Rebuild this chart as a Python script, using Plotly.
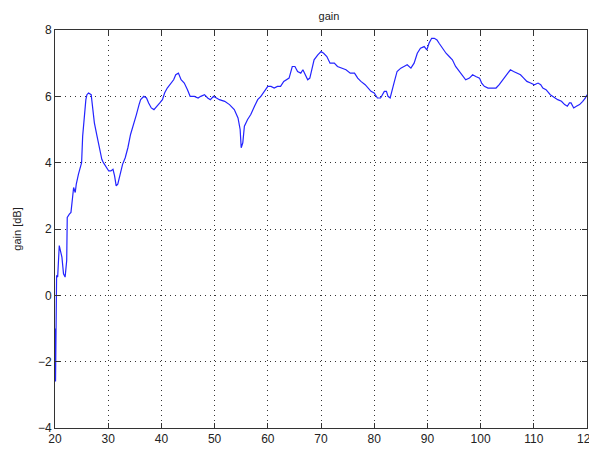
import plotly.graph_objects as go

freq = [20.0, 20.1, 20.3, 20.5, 20.8, 21.3, 21.6, 21.9, 22.2, 22.3, 22.7, 23.0, 23.3, 23.5, 23.8, 24.0,
        24.4, 24.7, 25.0, 25.2, 25.5, 25.8, 26.0, 26.3, 26.8, 27.1, 27.4, 27.9, 28.4, 28.8, 29.1,
        29.5, 29.8, 30.1, 30.5, 30.9, 31.2, 31.5, 31.8, 32.3, 32.7, 33.2, 33.7, 34.2, 34.8, 35.3,
        35.8, 36.1, 36.7, 37.2, 37.6, 38.1, 38.6, 39.2, 39.7, 40.2, 40.6, 41.1, 41.8, 42.3, 42.7,
        43.2, 43.7, 44.3, 44.9, 45.4, 46.2, 46.9, 47.4, 48.1, 48.7, 49.2, 49.8, 50.9, 51.9, 52.8,
        53.7, 54.4, 54.8, 55.0, 55.3, 55.6, 56.2, 56.8, 57.5, 58.1, 58.7, 59.3, 60.0, 60.6, 61.2,
        61.8, 62.4, 63.0, 64.0, 64.6, 65.1, 65.6, 66.2, 66.6, 67.1, 67.5, 67.9, 68.3, 68.7, 69.4,
        70.0, 70.5, 71.1, 71.7, 72.5, 73.1, 73.9, 74.7, 75.5, 76.3, 76.9, 77.5, 78.3, 78.8, 79.4,
        80.0, 80.6, 81.2, 81.9, 82.3, 82.6, 83.0, 83.4, 83.8, 84.3, 85.0, 85.6, 86.2, 86.9, 87.5,
        88.1, 88.7, 89.4, 89.9, 90.3, 90.8, 91.3, 91.8, 92.2, 92.8, 93.5, 94.1, 94.7, 95.3, 96.0,
        96.6, 97.2, 97.9, 98.5, 99.1, 99.8, 100.2, 100.7, 101.4, 102.3, 102.9, 103.5, 104.2, 104.8,
        105.6, 106.2, 106.9, 107.5, 108.1, 108.7, 109.4, 110.1, 110.8, 111.3, 111.7, 112.3, 113.1,
        113.9, 114.5, 115.2, 115.8, 116.3, 116.7, 117.0, 117.5, 118.0, 118.6, 119.2, 119.7, 120.0]

gain_db = [-1.0, -2.6, 0.6, 0.55, 1.5, 1.15, 0.65, 0.55, 1.05, 2.35, 2.45, 2.5, 2.95, 3.25, 3.1, 3.35,
           3.65, 3.8, 4.0, 4.8, 5.4, 5.9, 6.05, 6.1, 6.05, 5.6, 5.2, 4.8, 4.4, 4.1, 4.0,
           3.9, 3.85, 3.75, 3.75, 3.8, 3.6, 3.3, 3.35, 3.65, 3.95, 4.15, 4.45, 4.85, 5.15, 5.45,
           5.75, 5.9, 6.0, 5.95, 5.8, 5.65, 5.6, 5.7, 5.8, 5.9, 6.1, 6.25, 6.4, 6.5, 6.65,
           6.7, 6.5, 6.4, 6.2, 6.0, 6.0, 5.95, 6.0, 6.05, 5.95, 5.9, 6.0, 5.9, 5.85, 5.75,
           5.6, 5.35, 5.0, 4.45, 4.6, 5.1, 5.3, 5.45, 5.7, 5.9, 6.0, 6.15, 6.3, 6.3, 6.25,
           6.3, 6.3, 6.45, 6.55, 6.9, 6.9, 6.75, 6.7, 6.8, 6.65, 6.5, 6.55, 6.85, 7.1, 7.25,
           7.35, 7.3, 7.2, 7.0, 7.0, 6.9, 6.85, 6.8, 6.7, 6.7, 6.55, 6.45, 6.35, 6.25, 6.15,
           6.1, 5.95, 5.95, 6.15, 6.15, 6.0, 5.95, 6.25, 6.45, 6.75, 6.85, 6.9, 6.95, 6.85, 7.0,
           7.3, 7.45, 7.5, 7.4, 7.6, 7.75, 7.75, 7.7, 7.6, 7.45, 7.3, 7.2, 7.1, 6.9, 6.75,
           6.6, 6.5, 6.55, 6.65, 6.6, 6.55, 6.4, 6.3, 6.25, 6.25, 6.25, 6.35, 6.5, 6.6,
           6.8, 6.75, 6.7, 6.65, 6.55, 6.45, 6.4, 6.35, 6.4, 6.35, 6.25, 6.2, 6.05,
           5.95, 5.9, 5.85, 5.75, 5.7, 5.8, 5.8, 5.65, 5.7, 5.75, 5.85, 5.95, 6.05]

x_ticks = [20, 30, 40, 50, 60, 70, 80, 90, 100, 110, 120]
y_ticks = [-4, -2, 0, 2, 4, 6, 8]

fig = go.Figure()
fig.add_trace(go.Scatter(x=freq, y=gain_db, mode="lines",
                         line=dict(color="#2424ff", width=1.2), showlegend=False))

axis_common = dict(
    showline=True, linecolor="#333333", linewidth=1, mirror="allticks",
    ticks="inside", ticklen=5, tickcolor="#333333",
    showgrid=True, gridcolor="#333333", griddash="1px,4px", gridwidth=1,
    zeroline=False, tickfont=dict(size=12, color="#222222"),
    automargin=False,
)

fig.update_xaxes(range=[20, 120], tickvals=x_ticks, ticklabeloverflow="allow", **axis_common)
fig.update_yaxes(range=[-4, 8], tickvals=y_ticks,
                 title=dict(text="gain [dB]", font=dict(size=11, color="#222222"), standoff=14),
                 **axis_common)

# page has an 8px body margin, so the figure is placed to fit inside the window
fig.update_layout(
    width=589, height=443,
    margin=dict(l=47, r=10, t=22, b=23),
    paper_bgcolor="white", plot_bgcolor="white",
    font=dict(family="Liberation Sans, Arial, sans-serif", size=11, color="#222222"),
    title=dict(text="gain", x=0.545, xanchor="center", y=0.99, yanchor="top",
               font=dict(size=11, color="#222222")),
)

fig.write_html("out.html")
